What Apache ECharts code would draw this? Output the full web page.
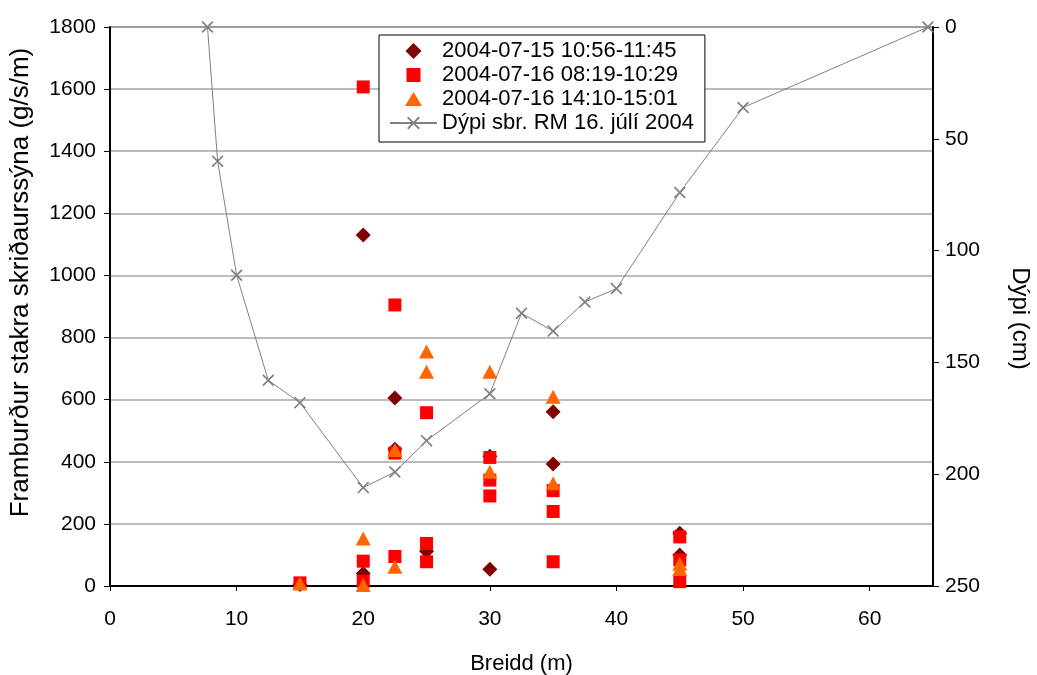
<!DOCTYPE html>
<html>
<head>
<meta charset="utf-8">
<script src="https://cdn.jsdelivr.net/npm/echarts@6/dist/echarts.min.js"></script>
<style>
  html, body { margin: 0; padding: 0; background: #fff; }
  #chart { width: 1037px; height: 675px; }
</style>
</head>
<body>
<div id="chart"></div>
<script>
// Sampling runs: position across the channel (m) and bedload transport (g/s/m)
const run1Label = '2004-07-15 10:56-11:45';
const run1X = [15, 20, 20, 22.5, 22.5, 25, 30, 30, 35, 35, 45, 45];
const run1Y = [5, 1130, 40, 605, 440, 112, 418, 54, 561, 393, 170, 100];

const run2Label = '2004-07-16 08:19-10:29';
const run2X = [15, 20, 20, 20, 22.5, 22.5, 22.5, 25, 25, 25, 30, 30, 30, 35, 35, 35, 45, 45, 45];
const run2Y = [10, 1607, 80, 15, 905, 428, 95, 558, 137, 78, 414, 341, 290, 307, 240, 78, 158, 84, 14];

const run3Label = '2004-07-16 14:10-15:01';
const run3X = [15, 20, 20, 22.5, 22.5, 25, 25, 30, 30, 35, 35, 45, 45];
const run3Y = [8, 153, 3, 438, 62, 755, 690, 690, 368, 609, 331, 72, 55];

// Depth profile across the section (cm)
const depthLabel = 'Dýpi sbr. RM 16. júlí 2004';
const depthX = [7.7, 8.5, 10, 12.5, 15, 20, 22.5, 25, 30, 32.5, 35, 37.5, 40, 45, 50, 64.6];
const depthY = [0, 60, 111, 158, 168, 206, 199, 185, 164, 128, 136, 123, 117, 74, 36, 0];

// Axis settings
const xTicks = { min: 0, max: 65, interval: 10 };
const leftTicks = { min: 0, max: 1800, interval: 200 };
const rightTicks = { min: 0, max: 250, interval: 50 };

const FONT = 'Liberation Sans, Arial, sans-serif';
const TICK_SIZE = 21;
const pairs = (xs, ys) => xs.map((x, i) => [x, ys[i]]);
const plain = v => String(v);
const crossPath = 'path://M0,1L1,0L5,4L9,0L10,1L6,5L10,9L9,10L5,6L1,10L0,9L4,5Z';

// Legend icons: a marker centred in a 47x16 box (corner points keep the box size)
const box = 'M0,0L0,0M47,16L47,16';
const legendDiamond = 'path://' + box + 'M23.5,0L31.5,8L23.5,16L15.5,8Z';
const legendSquare = 'path://' + box + 'M16.5,1L30.5,1L30.5,15L16.5,15Z';
const legendTriangle = 'path://' + box + 'M23.5,1L32,15L15,15Z';

const chart = echarts.init(document.getElementById('chart'), null, { renderer: 'canvas' });
chart.setOption({
  backgroundColor: '#fff',
  animation: false,
  textStyle: { fontFamily: FONT },
  grid: {
    left: 110, right: 104, top: 27, bottom: 89,
    outerBoundsMode: 'none', containLabel: false,
    show: true, borderColor: '#000', borderWidth: 1
  },
  legend: {
    left: 379, top: 35,
    orient: 'vertical',
    backgroundColor: '#fff',
    borderColor: '#000', borderWidth: 1,
    padding: [5, 11, 8, 10],
    itemWidth: 47, itemHeight: 16, itemGap: 2,
    textStyle: { fontFamily: FONT, fontSize: 22, color: '#000' },
    data: [
      { name: run1Label, icon: legendDiamond },
      { name: run2Label, icon: legendSquare },
      { name: run3Label, icon: legendTriangle },
      { name: depthLabel }
    ]
  },
  xAxis: {
    type: 'value',
    min: xTicks.min, max: xTicks.max, interval: xTicks.interval,
    name: 'Breidd (m)', nameLocation: 'middle', nameGap: 67,
    nameTextStyle: { fontFamily: FONT, fontSize: 22, color: '#000' },
    axisLine: { show: true, lineStyle: { color: '#000', width: 2 } },
    axisTick: { show: true, inside: false, length: 5, lineStyle: { color: '#000' } },
    axisLabel: { fontFamily: FONT, fontSize: TICK_SIZE, color: '#000', margin: 23, showMaxLabel: false, formatter: plain },
    splitLine: { show: false }
  },
  yAxis: [{
    type: 'value', position: 'left',
    min: leftTicks.min, max: leftTicks.max, interval: leftTicks.interval,
    name: 'Framburður stakra skriðaurssýna (g/s/m)', nameLocation: 'middle', nameGap: 76,
    nameTextStyle: { fontFamily: FONT, fontSize: 26, color: '#000', padding: [0, 0, 0, 48] },
    axisLine: { show: true, lineStyle: { color: '#000', width: 2 } },
    axisTick: { show: true, inside: false, length: 6, lineStyle: { color: '#000' } },
    axisLabel: { fontFamily: FONT, fontSize: TICK_SIZE, color: '#000', margin: 14, formatter: plain },
    splitLine: { show: true, lineStyle: { color: '#a6a6a6', width: 1.5 } }
  }, {
    type: 'value', position: 'right', inverse: true,
    min: rightTicks.min, max: rightTicks.max, interval: rightTicks.interval,
    name: 'Dýpi (cm)', nameLocation: 'middle', nameGap: 75, nameRotate: -90,
    nameTextStyle: { fontFamily: FONT, fontSize: 24, color: '#000', padding: [0, 0, 0, 24] },
    axisLine: { show: true, lineStyle: { color: '#000', width: 2 } },
    axisTick: { show: true, inside: false, length: 6, lineStyle: { color: '#000' } },
    axisLabel: { fontFamily: FONT, fontSize: TICK_SIZE, color: '#000', margin: 12, formatter: plain },
    splitLine: { show: false }
  }],
  series: [{
    name: depthLabel, type: 'line', yAxisIndex: 1, z: 1,
    data: pairs(depthX, depthY),
    symbol: crossPath, symbolSize: 12, showSymbol: true,
    lineStyle: { color: '#808080', width: 1 },
    itemStyle: { color: '#808080' }
  }, {
    name: run1Label, type: 'scatter', yAxisIndex: 0, z: 2,
    data: pairs(run1X, run1Y),
    symbol: 'diamond', symbolSize: [15, 15],
    itemStyle: { color: '#800000', opacity: 1 }
  }, {
    name: run2Label, type: 'scatter', yAxisIndex: 0, z: 3,
    data: pairs(run2X, run2Y),
    symbol: 'rect', symbolSize: [13, 13],
    itemStyle: { color: '#ff0000', opacity: 1 }
  }, {
    name: run3Label, type: 'scatter', yAxisIndex: 0, z: 4,
    data: pairs(run3X, run3Y),
    symbol: 'triangle', symbolSize: [15, 14],
    itemStyle: { color: '#ff6600', opacity: 1 }
  }]
});
</script>
</body>
</html>
